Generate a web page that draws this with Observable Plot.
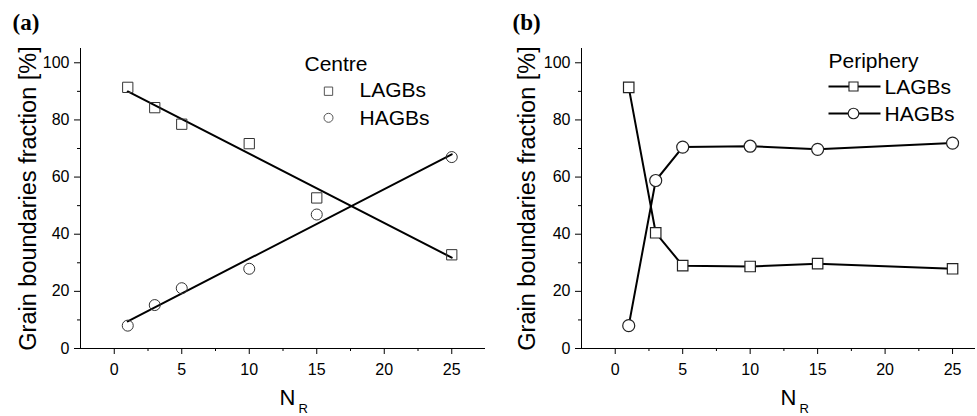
<!DOCTYPE html>
<html>
<head>
<meta charset="utf-8">
<script src="https://cdn.jsdelivr.net/npm/d3@7"></script>
<script src="https://cdn.jsdelivr.net/npm/@observablehq/plot@0.6"></script>
<style>
  html, body { margin: 0; padding: 0; background: #fff; }
  #wrap { display: flex; flex-direction: row; width: 977px; height: 416px; }
  #wrap svg { display: block; }
</style>
</head>
<body>
<div id="wrap"></div>
<script>
// ---- data ----
const nR = [1, 3, 5, 10, 15, 25];
const centreLAGBs = [91.4, 84.3, 78.5, 71.7, 52.7, 32.8];
const centreHAGBs = [8.0, 15.2, 21.1, 27.9, 46.9, 67.0];
const peripheryLAGBs = [91.4, 40.5, 29.0, 28.7, 29.7, 27.9];
const peripheryHAGBs = [8.0, 58.8, 70.5, 70.8, 69.7, 71.9];
const xTicks = [0, 5, 10, 15, 20, 25];
const xMinorTicks = [2.5, 7.5, 12.5, 17.5, 22.5];
const yTicks = [0, 20, 40, 60, 80, 100];
const yMinorTicks = [10, 30, 50, 70, 90];
const yLabel = "Grain boundaries fraction [%]";
const seriesNames = ["LAGBs", "HAGBs"];

const FONT = "'Liberation Sans', Arial, sans-serif";

function rows(ys) { return nR.map((x, i) => ({x, y: ys[i]})); }

const lineSym = { draw(ctx) { ctx.moveTo(-26, 0); ctx.lineTo(26, 0); } };

function panel(cfg) {
  const lag = rows(cfg.lag), hag = rows(cfg.hag);
  const marks = [
    Plot.ruleX([cfg.xDomain[0]], {stroke: "black", strokeWidth: 1}),
    Plot.ruleY([0], {stroke: "black", strokeWidth: 1}),
    Plot.axisY({ticks: yTicks, tickSize: 6, tickPadding: 5, fontSize: 16, label: null, stroke: "black"}),
    Plot.axisY({ticks: yMinorTicks, tickSize: 3, text: null, label: null, stroke: "black"}),
    Plot.axisX({ticks: xTicks, tickSize: 6, tickPadding: 9, fontSize: 16, label: null, stroke: "black"}),
    Plot.axisX({ticks: xMinorTicks, tickSize: 3, text: null, label: null, stroke: "black"}),
    // y label
    Plot.text([yLabel], {frameAnchor: "left", text: d => d, rotate: -90, lineAnchor: "bottom",
      textAnchor: "middle", dx: cfg.yLabelDx, fontSize: 23.5, fill: "black"}),
    // x label N_R
    Plot.text(["N"], {frameAnchor: "bottom", text: d => d, textAnchor: "start", lineAnchor: "bottom",
      dx: cfg.nDx, dy: 56, fontSize: 22, fill: "black"}),
    Plot.text(["R"], {frameAnchor: "bottom", text: d => d, textAnchor: "start", lineAnchor: "bottom",
      dx: cfg.nDx + 19, dy: 64, fontSize: 13, fill: "black"}),
    // panel title
    Plot.text([cfg.title], {frameAnchor: "top-left", text: d => d, textAnchor: "start", lineAnchor: "bottom",
      dx: cfg.titleDx, dy: -19, fontSize: 23, fontWeight: "bold", fontFamily: "'Liberation Serif', 'Times New Roman', serif", fill: "black"})
  ];
  if (cfg.regression) {
    marks.push(
      Plot.linearRegressionY(lag, {x: "x", y: "y", ci: 0, stroke: "black", strokeWidth: 2}),
      Plot.linearRegressionY(hag, {x: "x", y: "y", ci: 0, stroke: "black", strokeWidth: 2}),
      Plot.dot(lag, {x: "x", y: "y", symbol: "square", r: 5.8, stroke: "#333", strokeWidth: 1, fill: "none"}),
      Plot.dot(hag, {x: "x", y: "y", symbol: "circle", r: 5.5, stroke: "#333", strokeWidth: 1, fill: "none"}),
      // legend
      Plot.text([cfg.legendTitle], {frameAnchor: "top-left", text: d => d, textAnchor: "start", lineAnchor: "bottom", dx: 224, dy: 22, fontSize: 21, fill: "black"}),
      Plot.dot([0], {frameAnchor: "top-left", dx: 248, dy: 42.7, symbol: "square", r: 4.7, stroke: "#555", strokeWidth: 1, fill: "none"}),
      Plot.dot([0], {frameAnchor: "top-left", dx: 248, dy: 69.3, symbol: "circle", r: 4.5, stroke: "#555", strokeWidth: 1, fill: "none"}),
      Plot.text([seriesNames[0]], {frameAnchor: "top-left", text: d => d, textAnchor: "start", lineAnchor: "bottom", dx: 279, dy: 48.7, fontSize: 21, fill: "black"}),
      Plot.text([seriesNames[1]], {frameAnchor: "top-left", text: d => d, textAnchor: "start", lineAnchor: "bottom", dx: 279, dy: 76, fontSize: 21, fill: "black"})
    );
  } else {
    marks.push(
      Plot.line(lag, {x: "x", y: "y", stroke: "black", strokeWidth: 2}),
      Plot.line(hag, {x: "x", y: "y", stroke: "black", strokeWidth: 2}),
      Plot.dot(lag, {x: "x", y: "y", symbol: "square", r: 5.9, stroke: "#222", strokeWidth: 1.2, fill: "white"}),
      Plot.dot(hag, {x: "x", y: "y", symbol: "circle", r: 6, stroke: "#222", strokeWidth: 1.2, fill: "white"}),
      // legend
      Plot.text([cfg.legendTitle], {frameAnchor: "top-left", text: d => d, textAnchor: "start", lineAnchor: "bottom", dx: 247, dy: 19, fontSize: 21, fill: "black"}),
      Plot.dot([0], {frameAnchor: "top-left", dx: 273, dy: 38, symbol: lineSym, r: 1, stroke: "black", strokeWidth: 2, fill: "none"}),
      Plot.dot([0], {frameAnchor: "top-left", dx: 273, dy: 65, symbol: lineSym, r: 1, stroke: "black", strokeWidth: 2, fill: "none"}),
      Plot.dot([0], {frameAnchor: "top-left", dx: 272, dy: 38, symbol: "square", r: 5.1, stroke: "#222", strokeWidth: 1.1, fill: "white"}),
      Plot.dot([0], {frameAnchor: "top-left", dx: 272, dy: 65, symbol: "circle", r: 5.3, stroke: "#222", strokeWidth: 1.1, fill: "white"}),
      Plot.text([seriesNames[0]], {frameAnchor: "top-left", text: d => d, textAnchor: "start", lineAnchor: "bottom", dx: 303, dy: 45, fontSize: 21, fill: "black"}),
      Plot.text([seriesNames[1]], {frameAnchor: "top-left", text: d => d, textAnchor: "start", lineAnchor: "bottom", dx: 303, dy: 72, fontSize: 21, fill: "black"})
    );
  }
  return Plot.plot({
    width: cfg.width,
    height: 416,
    marginLeft: cfg.marginLeft,
    marginRight: cfg.marginRight,
    marginTop: 48,
    marginBottom: 68,
    style: {fontFamily: FONT, color: "black", background: "white", overflow: "visible"},
    x: {domain: cfg.xDomain},
    y: {domain: [0, 105]},
    marks
  });
}

const wrap = document.getElementById("wrap");
wrap.append(panel({
  title: "(a)", legendTitle: "Centre", lag: centreLAGBs, hag: centreHAGBs, regression: true,
  width: 488, marginLeft: 80, marginRight: 3, xDomain: [-2.5, 27.5],
  yLabelDx: -45, nDx: -3.5, titleDx: -68
}));
wrap.append(panel({
  title: "(b)", legendTitle: "Periphery", lag: peripheryLAGBs, hag: peripheryHAGBs, regression: false,
  width: 489, marginLeft: 93, marginRight: 2, xDomain: [-2.5, 26.7],
  yLabelDx: -47, nDx: 2, titleDx: -69
}));
</script>
</body>
</html>
